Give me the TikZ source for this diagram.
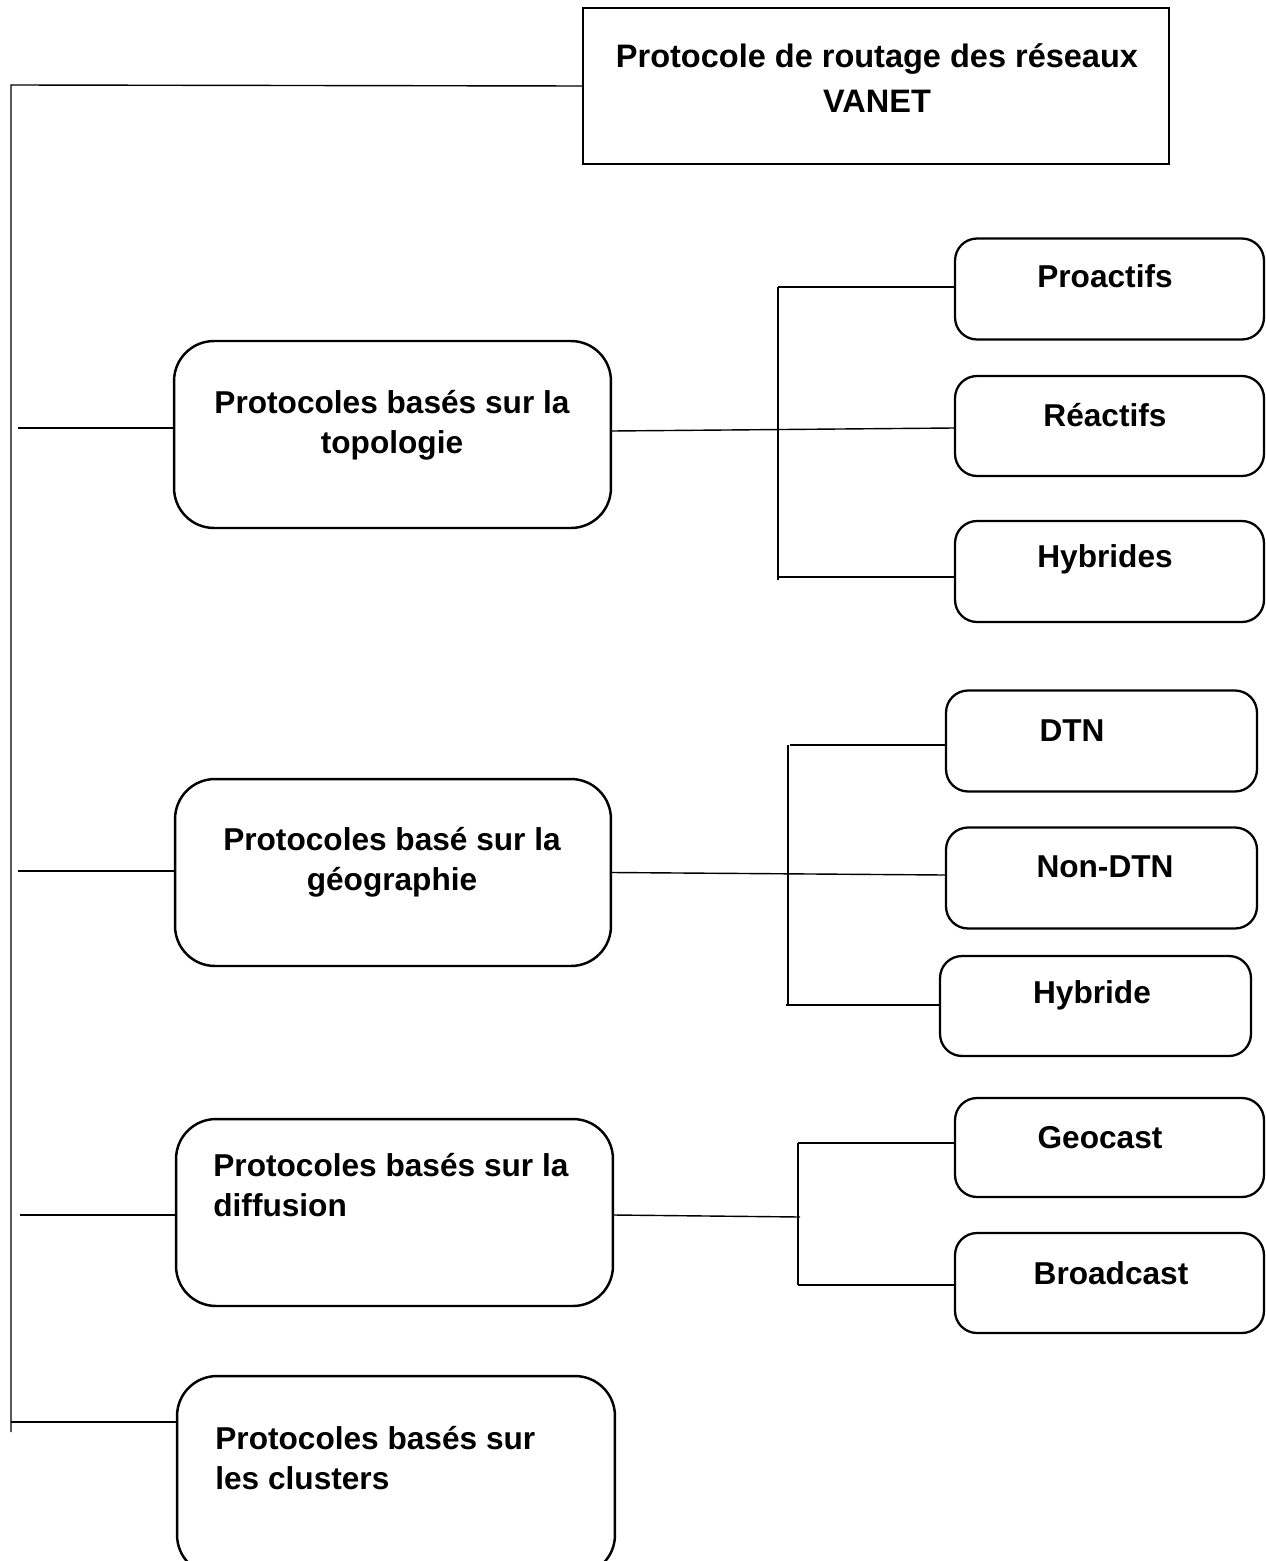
\documentclass[tikz,border=0pt]{standalone}
\usepackage{fontspec}
\setmainfont{Liberation Sans}
\begin{document}
\begin{tikzpicture}[x=0.02cm,y=-0.02cm,
  conn/.style={line width=0.8pt},
  bigbox/.style={draw,line width=1.4pt,rounded corners=0.8cm,minimum width=8.74cm,minimum height=3.74cm,inner sep=0},
  smallbox/.style={draw,line width=1.3pt,rounded corners=0.44cm,minimum width=6.18cm,minimum height=2.02cm,inner sep=0},
  lbl/.style={font=\fontsize{18}{22.7}\selectfont\bfseries,inner sep=0,align=center}]
\useasboundingbox (0,0) rectangle (1266,1561);
\clip (0,0) rectangle (1266,1561);

% top box
\node[draw,line width=1.4pt,minimum width=11.72cm,minimum height=3.12cm,inner sep=0] (top) at (876,86) {};
\node[lbl,font=\fontsize{18.5}{25.5}\selectfont\bfseries] (toplbl) at (877,78) {Protocole de routage des réseaux\\VANET};

% trunk
\coordinate (t0) at (11,85);
\coordinate (t1) at (11,1432);
\draw[conn] (top.west) -- (t0) -- (t1);

% big boxes
\node[bigbox] (b1) at (392.5,434.5) {};
\node[lbl] (b1l) at (392,425) {Protocoles basés sur la\\topologie};
\node[bigbox,minimum width=8.72cm] (b2) at (393,872.5) {};
\node[lbl] (b2l) at (392,862) {Protocoles basé sur la\\géographie};
\node[bigbox] (b3) at (394.5,1212.5) {};
\node[lbl,align=left,anchor=west] (b3l) at (213,1185) {Protocoles basés sur la\\diffusion};
\node[bigbox,minimum width=8.76cm,minimum height=3.98cm] (b4) at (396,1475.5) {};
\node[lbl,align=left,anchor=west] (b4l) at (215,1458) {Protocoles basés sur\\les clusters};

% branches from trunk
\coordinate (a1) at (18,428);
\coordinate (a2) at (18,871);
\coordinate (a3) at (20,1215);
\coordinate (a4) at (11,1422);
\draw[conn] (a1) -- (a1 -| b1.west);
\draw[conn] (a2) -- (a2 -| b2.west);
\draw[conn] (a3) -- (a3 -| b3.west);
\draw[conn] (a4) -- (a4 -| b4.west);

% topology children
\node[smallbox] (r1) at (1109.5,289) {};
\node[lbl] (r1l) at (1105,276) {Proactifs};
\node[smallbox,minimum height=2.0cm] (r2) at (1109.5,426) {};
\node[lbl] (r2l) at (1105,415) {Réactifs};
\node[smallbox] (r3) at (1109.5,571.5) {};
\node[lbl] (r3l) at (1105,559) {Hybrides};
\coordinate (v1a) at (778,287);
\coordinate (v1b) at (778,580);
\coordinate (v1c) at (778,577);
\draw[conn] (v1a) -- (v1b);
\draw[conn] (v1a) -- (v1a -| r1.west);
\draw[conn] (v1c) -- (v1c -| r3.west);
\draw[conn] ([yshift=0.07cm]b1.east) -- ([yshift=-0.04cm]r2.west);

% geography children
\node[smallbox,minimum width=6.22cm] (g1) at (1101.5,741) {};
\node[lbl] (g1l) at (1072,731) {DTN};
\node[smallbox,minimum width=6.22cm] (g2) at (1101.5,878) {};
\node[lbl] (g2l) at (1105,867) {Non-DTN};
\node[smallbox,minimum width=6.22cm,minimum height=2.0cm] (g3) at (1095.5,1006) {};
\node[lbl] (g3l) at (1092,995) {Hybride};
\coordinate (v2a) at (790,745);
\coordinate (v2t) at (788,745);
\coordinate (v2b) at (788,1005);
\coordinate (v2c) at (786,1005);
\draw[conn] (v2t) -- (v2b);
\draw[conn] (v2a) -- (v2a -| g1.west);
\draw[conn] (v2c) -- (v2c -| g3.west);
\draw[conn] (b2.east) -- ([yshift=0.06cm]g2.west);

% diffusion children
\node[smallbox,minimum height=1.98cm] (d1) at (1109.5,1147.5) {};
\node[lbl] (d1l) at (1100,1138) {Geocast};
\node[smallbox,minimum height=2.0cm] (d2) at (1109.5,1283) {};
\node[lbl] (d2l) at (1111,1273) {Broadcast};
\coordinate (v3a) at (798,1143);
\coordinate (v3b) at (798,1285);
\coordinate (v3m) at (800,1217);
\draw[conn] (v3a) -- (v3b);
\draw[conn] (v3a) -- (v3a -| d1.west);
\draw[conn] (v3b) -- (v3b -| d2.west);
\draw[conn] ([yshift=-0.05cm]b3.east) -- (v3m);
\end{tikzpicture}
\end{document}
